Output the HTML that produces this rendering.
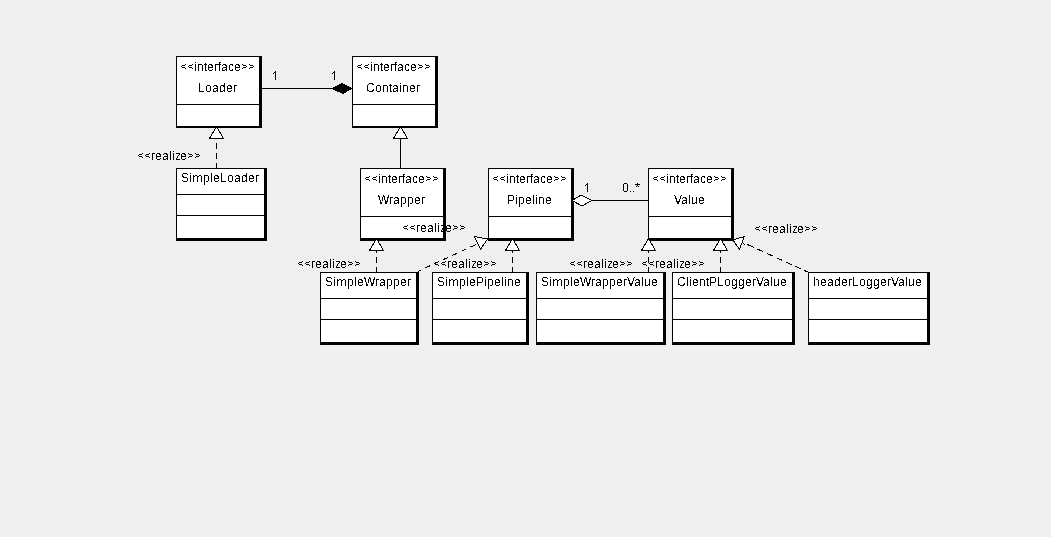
<!DOCTYPE html>
<html><head><meta charset="utf-8"><title>UML</title>
<style>
html,body{margin:0;padding:0;background:#efefef;}
body{width:1051px;height:537px;overflow:hidden;}
svg{display:block;}
text{font-family:"Liberation Sans",sans-serif;font-size:12px;fill:#000;}
</style></head><body>
<svg width="1051" height="537" viewBox="0 0 1051 537">
<rect x="0" y="0" width="1051" height="537" fill="#efefef"/>
<defs><filter id="bw" x="0" y="0" width="1051" height="537" filterUnits="userSpaceOnUse" color-interpolation-filters="sRGB"><feComponentTransfer><feFuncR type="discrete" tableValues="0 1"/><feFuncG type="discrete" tableValues="0 1"/><feFuncB type="discrete" tableValues="0 1"/><feFuncA type="discrete" tableValues="0 1"/></feComponentTransfer></filter></defs>
<g filter="url(#bw)" shape-rendering="crispEdges">
<rect x="262" y="88" width="72" height="1" fill="#000"/>
<rect x="400" y="138" width="1" height="30" fill="#000"/>
<rect x="590" y="200" width="58" height="1" fill="#000"/>
<rect x="216" y="143" width="1" height="6" fill="#000"/>
<rect x="216" y="153" width="1" height="6" fill="#000"/>
<rect x="216" y="163" width="1" height="5" fill="#000"/>
<rect x="376" y="251" width="1" height="2" fill="#000"/>
<rect x="376" y="257" width="1" height="6" fill="#000"/>
<rect x="376" y="267" width="1" height="5" fill="#000"/>
<rect x="512" y="251" width="1" height="2" fill="#000"/>
<rect x="512" y="257" width="1" height="6" fill="#000"/>
<rect x="512" y="267" width="1" height="5" fill="#000"/>
<rect x="648" y="251" width="1" height="2" fill="#000"/>
<rect x="648" y="257" width="1" height="6" fill="#000"/>
<rect x="648" y="267" width="1" height="5" fill="#000"/>
<rect x="720" y="251" width="1" height="2" fill="#000"/>
<rect x="720" y="257" width="1" height="6" fill="#000"/>
<rect x="720" y="267" width="1" height="5" fill="#000"/>
<line x1="417.6" y1="271.5" x2="420.6" y2="270.11" stroke="#000" stroke-width="1"/>
<line x1="425" y1="268.08" x2="430" y2="265.77" stroke="#000" stroke-width="1"/>
<line x1="434" y1="263.92" x2="439" y2="261.61" stroke="#000" stroke-width="1"/>
<line x1="443" y1="259.76" x2="448" y2="257.45" stroke="#000" stroke-width="1"/>
<line x1="452" y1="255.6" x2="457" y2="253.28" stroke="#000" stroke-width="1"/>
<line x1="461.4" y1="251.25" x2="466.4" y2="248.94" stroke="#000" stroke-width="1"/>
<line x1="470.4" y1="247.09" x2="476" y2="244.5" stroke="#000" stroke-width="1"/>
<line x1="808.2" y1="272.2" x2="803.8" y2="270.19" stroke="#000" stroke-width="1"/>
<line x1="801" y1="268.91" x2="795" y2="266.18" stroke="#000" stroke-width="1"/>
<line x1="791.8" y1="264.72" x2="786" y2="262.07" stroke="#000" stroke-width="1"/>
<line x1="782.3" y1="260.38" x2="776.6" y2="257.78" stroke="#000" stroke-width="1"/>
<line x1="772.8" y1="256.05" x2="767" y2="253.4" stroke="#000" stroke-width="1"/>
<line x1="763.3" y1="251.71" x2="757.6" y2="249.11" stroke="#000" stroke-width="1"/>
<line x1="753.8" y1="247.37" x2="747.5" y2="244.5" stroke="#000" stroke-width="1"/>
<rect x="176" y="56" width="86" height="72" fill="#000"/>
<rect x="177" y="57" width="82" height="69" fill="#fff"/>
<rect x="177" y="104" width="82" height="1" fill="#000"/>
<rect x="352" y="56" width="86" height="72" fill="#000"/>
<rect x="353" y="57" width="82" height="69" fill="#fff"/>
<rect x="353" y="104" width="82" height="1" fill="#000"/>
<rect x="176" y="168" width="91" height="73" fill="#000"/>
<rect x="177" y="169" width="87" height="69" fill="#fff"/>
<rect x="177" y="194" width="87" height="1" fill="#000"/>
<rect x="177" y="215" width="87" height="1" fill="#000"/>
<rect x="360" y="168" width="86" height="73" fill="#000"/>
<rect x="361" y="169" width="82" height="69" fill="#fff"/>
<rect x="361" y="216" width="82" height="1" fill="#000"/>
<rect x="488" y="168" width="86" height="73" fill="#000"/>
<rect x="489" y="169" width="82" height="69" fill="#fff"/>
<rect x="489" y="216" width="82" height="1" fill="#000"/>
<rect x="648" y="168" width="86" height="73" fill="#000"/>
<rect x="649" y="169" width="82" height="69" fill="#fff"/>
<rect x="649" y="216" width="82" height="1" fill="#000"/>
<rect x="320" y="272" width="99" height="73" fill="#000"/>
<rect x="321" y="273" width="95" height="69" fill="#fff"/>
<rect x="321" y="298" width="95" height="1" fill="#000"/>
<rect x="321" y="319" width="95" height="1" fill="#000"/>
<rect x="432" y="272" width="97" height="73" fill="#000"/>
<rect x="433" y="273" width="93" height="69" fill="#fff"/>
<rect x="433" y="298" width="93" height="1" fill="#000"/>
<rect x="433" y="319" width="93" height="1" fill="#000"/>
<rect x="536" y="272" width="130" height="73" fill="#000"/>
<rect x="537" y="273" width="126" height="69" fill="#fff"/>
<rect x="537" y="298" width="126" height="1" fill="#000"/>
<rect x="537" y="319" width="126" height="1" fill="#000"/>
<rect x="672" y="272" width="123" height="73" fill="#000"/>
<rect x="673" y="273" width="119" height="69" fill="#fff"/>
<rect x="673" y="298" width="119" height="1" fill="#000"/>
<rect x="673" y="319" width="119" height="1" fill="#000"/>
<rect x="808" y="272" width="122" height="73" fill="#000"/>
<rect x="809" y="273" width="118" height="69" fill="#fff"/>
<rect x="809" y="298" width="118" height="1" fill="#000"/>
<rect x="809" y="319" width="118" height="1" fill="#000"/>
<polygon points="216.5,126.5 209.5,138.5 223.5,138.5" fill="#fff" stroke="#000" stroke-width="1"/>
<polygon points="400.5,126.5 393.5,138.5 407.5,138.5" fill="#fff" stroke="#000" stroke-width="1"/>
<polygon points="376.5,238.5 369.5,250.5 383.5,250.5" fill="#fff" stroke="#000" stroke-width="1"/>
<polygon points="512.5,238.5 505.5,250.5 519.5,250.5" fill="#fff" stroke="#000" stroke-width="1"/>
<polygon points="648.5,238.5 641.5,250.5 655.5,250.5" fill="#fff" stroke="#000" stroke-width="1"/>
<polygon points="720.5,238.5 713.5,250.5 727.5,250.5" fill="#fff" stroke="#000" stroke-width="1"/>
<polygon points="487.5,239 474.2,236.5 480.5,249.3" fill="#fff" stroke="#000" stroke-width="1"/>
<polygon points="733,240 744.3,236.5 739.5,249.5" fill="#fff" stroke="#000" stroke-width="1"/>
<line x1="742.7" y1="243.3" x2="744.8" y2="244.3" stroke="#000" stroke-width="1"/>
<polygon points="331,88.5 342,82.9 352.6,88.5 343,94.1" fill="#000"/>
<polygon points="572,200.5 581.3,195 591.6,200.5 582,206" fill="#fff" stroke="#000" stroke-width="1"/>
<path shape-rendering="crispEdges" fill="#000" d="M185 64h1v1h-1zM182 65h3v1h-3zM181 66h1v1h-1zM182 67h3v1h-3zM185 68h1v1h-1zM192 64h1v1h-1zM189 65h3v1h-3zM188 66h1v1h-1zM189 67h3v1h-3zM192 68h1v1h-1zM242 64h1v1h-1zM243 65h3v1h-3zM246 66h1v1h-1zM243 67h3v1h-3zM242 68h1v1h-1zM249 64h1v1h-1zM250 65h3v1h-3zM253 66h1v1h-1zM250 67h3v1h-3zM249 68h1v1h-1zM361 64h1v1h-1zM358 65h3v1h-3zM357 66h1v1h-1zM358 67h3v1h-3zM361 68h1v1h-1zM368 64h1v1h-1zM365 65h3v1h-3zM364 66h1v1h-1zM365 67h3v1h-3zM368 68h1v1h-1zM418 64h1v1h-1zM419 65h3v1h-3zM422 66h1v1h-1zM419 67h3v1h-3zM418 68h1v1h-1zM425 64h1v1h-1zM426 65h3v1h-3zM429 66h1v1h-1zM426 67h3v1h-3zM425 68h1v1h-1zM193 175h1v7h-1zM195 175h2v1h-2zM194 176h1v1h-1zM197 176h1v6h-1zM199 175h2v1h-2zM198 176h1v1h-1zM201 176h1v6h-1zM369 176h1v1h-1zM366 177h3v1h-3zM365 178h1v1h-1zM366 179h3v1h-3zM369 180h1v1h-1zM376 176h1v1h-1zM373 177h3v1h-3zM372 178h1v1h-1zM373 179h3v1h-3zM376 180h1v1h-1zM426 176h1v1h-1zM427 177h3v1h-3zM430 178h1v1h-1zM427 179h3v1h-3zM426 180h1v1h-1zM433 176h1v1h-1zM434 177h3v1h-3zM437 178h1v1h-1zM434 179h3v1h-3zM433 180h1v1h-1zM497 176h1v1h-1zM494 177h3v1h-3zM493 178h1v1h-1zM494 179h3v1h-3zM497 180h1v1h-1zM504 176h1v1h-1zM501 177h3v1h-3zM500 178h1v1h-1zM501 179h3v1h-3zM504 180h1v1h-1zM554 176h1v1h-1zM555 177h3v1h-3zM558 178h1v1h-1zM555 179h3v1h-3zM554 180h1v1h-1zM561 176h1v1h-1zM562 177h3v1h-3zM565 178h1v1h-1zM562 179h3v1h-3zM561 180h1v1h-1zM657 176h1v1h-1zM654 177h3v1h-3zM653 178h1v1h-1zM654 179h3v1h-3zM657 180h1v1h-1zM664 176h1v1h-1zM661 177h3v1h-3zM660 178h1v1h-1zM661 179h3v1h-3zM664 180h1v1h-1zM714 176h1v1h-1zM715 177h3v1h-3zM718 178h1v1h-1zM715 179h3v1h-3zM714 180h1v1h-1zM721 176h1v1h-1zM722 177h3v1h-3zM725 178h1v1h-1zM722 179h3v1h-3zM721 180h1v1h-1zM337 279h1v7h-1zM339 279h2v1h-2zM338 280h1v1h-1zM341 280h1v6h-1zM343 279h2v1h-2zM342 280h1v1h-1zM345 280h1v6h-1zM449 279h1v7h-1zM451 279h2v1h-2zM450 280h1v1h-1zM453 280h1v6h-1zM455 279h2v1h-2zM454 280h1v1h-1zM457 280h1v6h-1zM553 279h1v7h-1zM555 279h2v1h-2zM554 280h1v1h-1zM557 280h1v6h-1zM559 279h2v1h-2zM558 280h1v1h-1zM561 280h1v6h-1zM275 71h1v9h-1zM274 72h1v1h-1zM273 73h1v1h-1zM334 71h1v9h-1zM333 72h1v1h-1zM332 73h1v1h-1zM587 183h1v9h-1zM586 184h1v1h-1zM585 185h1v1h-1zM624 183h3v1h-3zM623 184h1v7h-1zM627 184h1v7h-1zM624 191h3v1h-3zM630 191h1v1h-1zM633 191h1v1h-1zM637 183h1v1h-1zM635 184h5v1h-5zM637 185h1v1h-1zM636 186h1v1h-1zM638 186h1v1h-1zM142 153h1v1h-1zM139 154h3v1h-3zM138 155h1v1h-1zM139 156h3v1h-3zM142 157h1v1h-1zM149 153h1v1h-1zM146 154h3v1h-3zM145 155h1v1h-1zM146 156h3v1h-3zM149 157h1v1h-1zM188 153h1v1h-1zM189 154h3v1h-3zM192 155h1v1h-1zM189 156h3v1h-3zM188 157h1v1h-1zM195 153h1v1h-1zM196 154h3v1h-3zM199 155h1v1h-1zM196 156h3v1h-3zM195 157h1v1h-1zM302 261h1v1h-1zM299 262h3v1h-3zM298 263h1v1h-1zM299 264h3v1h-3zM302 265h1v1h-1zM309 261h1v1h-1zM306 262h3v1h-3zM305 263h1v1h-1zM306 264h3v1h-3zM309 265h1v1h-1zM348 261h1v1h-1zM349 262h3v1h-3zM352 263h1v1h-1zM349 264h3v1h-3zM348 265h1v1h-1zM355 261h1v1h-1zM356 262h3v1h-3zM359 263h1v1h-1zM356 264h3v1h-3zM355 265h1v1h-1zM407 225h1v1h-1zM404 226h3v1h-3zM403 227h1v1h-1zM404 228h3v1h-3zM407 229h1v1h-1zM414 225h1v1h-1zM411 226h3v1h-3zM410 227h1v1h-1zM411 228h3v1h-3zM414 229h1v1h-1zM453 225h1v1h-1zM454 226h3v1h-3zM457 227h1v1h-1zM454 228h3v1h-3zM453 229h1v1h-1zM460 225h1v1h-1zM461 226h3v1h-3zM464 227h1v1h-1zM461 228h3v1h-3zM460 229h1v1h-1zM438 261h1v1h-1zM435 262h3v1h-3zM434 263h1v1h-1zM435 264h3v1h-3zM438 265h1v1h-1zM445 261h1v1h-1zM442 262h3v1h-3zM441 263h1v1h-1zM442 264h3v1h-3zM445 265h1v1h-1zM484 261h1v1h-1zM485 262h3v1h-3zM488 263h1v1h-1zM485 264h3v1h-3zM484 265h1v1h-1zM491 261h1v1h-1zM492 262h3v1h-3zM495 263h1v1h-1zM492 264h3v1h-3zM491 265h1v1h-1zM574 261h1v1h-1zM571 262h3v1h-3zM570 263h1v1h-1zM571 264h3v1h-3zM574 265h1v1h-1zM581 261h1v1h-1zM578 262h3v1h-3zM577 263h1v1h-1zM578 264h3v1h-3zM581 265h1v1h-1zM620 261h1v1h-1zM621 262h3v1h-3zM624 263h1v1h-1zM621 264h3v1h-3zM620 265h1v1h-1zM627 261h1v1h-1zM628 262h3v1h-3zM631 263h1v1h-1zM628 264h3v1h-3zM627 265h1v1h-1zM646 261h1v1h-1zM643 262h3v1h-3zM642 263h1v1h-1zM643 264h3v1h-3zM646 265h1v1h-1zM653 261h1v1h-1zM650 262h3v1h-3zM649 263h1v1h-1zM650 264h3v1h-3zM653 265h1v1h-1zM692 261h1v1h-1zM693 262h3v1h-3zM696 263h1v1h-1zM693 264h3v1h-3zM692 265h1v1h-1zM699 261h1v1h-1zM700 262h3v1h-3zM703 263h1v1h-1zM700 264h3v1h-3zM699 265h1v1h-1zM759 226h1v1h-1zM756 227h3v1h-3zM755 228h1v1h-1zM756 229h3v1h-3zM759 230h1v1h-1zM766 226h1v1h-1zM763 227h3v1h-3zM762 228h1v1h-1zM763 229h3v1h-3zM766 230h1v1h-1zM805 226h1v1h-1zM806 227h3v1h-3zM809 228h1v1h-1zM806 229h3v1h-3zM805 230h1v1h-1zM812 226h1v1h-1zM813 227h3v1h-3zM816 228h1v1h-1zM813 229h3v1h-3zM812 230h1v1h-1z"/>
<text x="194 197 204 207 214 218 221 228 234" y="71">interface</text>
<text x="198 205 212 219 226 233" y="92">Loader</text>
<text x="370 373 380 383 390 394 397 404 410" y="71">interface</text>
<text x="366 375 382 389 392 399 402 409 416" y="92">Container</text>
<text x="181 189 203 210 213 220 227 234 241 248 255" y="182">SipleLoader</text>
<text x="378 381 388 391 398 402 405 412 418" y="183">interface</text>
<text x="378 389 393 400 407 414 421" y="204">Wrapper</text>
<text x="506 509 516 519 526 530 533 540 546" y="183">interface</text>
<text x="507 515 518 525 532 535 538 545" y="204">Pipeline</text>
<text x="666 669 676 679 686 690 693 700 706" y="183">interface</text>
<text x="674 681 688 691 698" y="204">Value</text>
<text x="325 333 347 354 357 364 375 379 386 393 400 407" y="286">SipleWrapper</text>
<text x="437 445 459 466 469 476 484 487 494 501 504 507 514" y="286">SiplePipeline</text>
<text x="541 549 563 570 573 580 591 595 602 609 616 623 627 634 641 644 651" y="286">SipleWrapperValue</text>
<text x="677 686 689 692 699 706 709 717 724 731 738 745 752 756 763 770 773 780" y="286">ClientPLoggerValue</text>
<text x="813 820 827 834 841 848 852 859 866 873 880 887 891 898 905 908 915" y="286">headerLoggerValue</text>
<text x="151 155 162 169 172 175 180" y="160">realize</text>
<text x="311 315 322 329 332 335 340" y="268">realize</text>
<text x="416 420 427 434 437 440 445" y="232">realize</text>
<text x="447 451 458 465 468 471 476" y="268">realize</text>
<text x="583 587 594 601 604 607 612" y="268">realize</text>
<text x="655 659 666 673 676 679 684" y="268">realize</text>
<text x="768 772 779 786 789 792 797" y="233">realize</text>
</g>
</svg>
</body></html>
